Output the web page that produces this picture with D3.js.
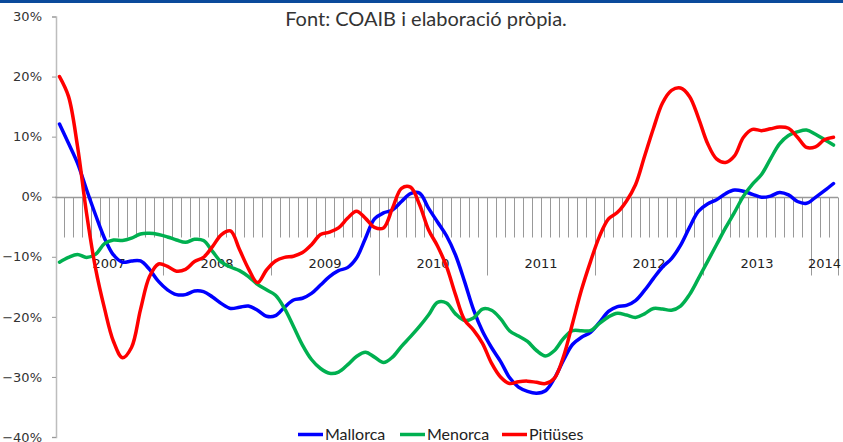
<!DOCTYPE html>
<html><head><meta charset="utf-8">
<script src="https://cdn.jsdelivr.net/npm/d3@7"></script>
<style>html,body{margin:0;padding:0;background:#fff;}svg{display:block;}</style>
</head><body>
<svg id="c" width="843" height="442"></svg>
<script>
const title = "Font: COAIB i elaboració pròpia.";
const years = ["2007","2008","2009","2010","2011","2012","2013","2014"];
const monthsPerYear = [12,12,12,12,12,12,12,3];
const yTicks = [-0.4,-0.3,-0.2,-0.1,0,0.1,0.2,0.3];
const seriesNames = ["Mallorca","Menorca","Pitiüses"];
const seriesColors = ["#0000FF","#00B050","#FF0000"];
const mallorca = [12.1,8.9,5.6,1.2,-3.0,-6.9,-9.7,-10.9,-10.7,-10.7,-12.1,-14.1,-15.5,-16.3,-16.3,-15.7,-15.8,-16.7,-17.8,-18.6,-18.4,-18.2,
 -18.9,-19.9,-19.8,-18.4,-17.2,-16.9,-16.1,-14.7,-13.3,-12.3,-11.8,-10.2,-6.9,-3.7,-2.7,-2.2,-0.8,0.5,0.6,-1.9,-4.2,
 -6.5,-9.7,-14.1,-18.8,-22.4,-25.1,-27.4,-30.1,-31.7,-32.4,-32.7,-32.3,-30.2,-27.2,-24.6,-23.4,-22.6,-20.9,-19.1,-18.3,-18.1,
 -17.3,-15.6,-13.6,-11.7,-10.3,-8.1,-5.1,-2.4,-1.2,-0.5,0.5,1.1,0.9,0.4,-0.1,0.1,0.7,0.3,-0.8,-1.1,-0.1,1.0,2.2];
const menorca = [-10.9,-10.1,-9.6,-10.1,-9.6,-7.8,-7.2,-7.3,-6.9,-6.2,-6.1,-6.3,-6.7,-7.2,-7.6,-7.1,-7.3,-9.1,-10.9,-11.7,-12.3,-13.3,
 -14.6,-15.5,-16.4,-18.6,-21.6,-24.7,-27.1,-28.6,-29.4,-29.2,-28.0,-26.6,-25.9,-26.7,-27.6,-26.7,-24.9,-23.3,-21.6,-19.7,-17.6,
 -17.7,-19.5,-20.6,-20.2,-18.7,-18.9,-20.3,-22.3,-23.2,-24.1,-25.6,-26.5,-25.6,-23.6,-22.3,-22.3,-22.3,-21.1,-20.0,-19.4,-19.7,
 -20.1,-19.5,-18.6,-18.7,-18.9,-18.2,-16.3,-13.6,-10.8,-8.0,-5.2,-2.6,0.1,2.1,3.7,6.3,8.8,10.2,10.8,11.1,10.4,9.5,8.6];
const pitiuses = [20.0,16.7,8.4,-2.7,-11.9,-18.6,-24.1,-26.8,-25.1,-18.8,-13.3,-11.2,-11.6,-12.4,-12.1,-10.8,-10.1,-8.3,-6.3,-5.7,-8.8,-12.0,
 -14.3,-12.2,-10.7,-10.1,-9.9,-9.3,-8.0,-6.3,-5.9,-5.2,-3.6,-2.4,-3.6,-5.1,-5.2,-1.9,1.4,1.6,-1.3,-5.5,-8.2,
 -11.6,-16.3,-20.5,-22.2,-24.4,-27.7,-30.0,-31.1,-30.8,-30.7,-30.9,-31.1,-30.2,-26.6,-21.1,-15.5,-10.8,-6.6,-3.7,-2.6,-0.7,
 2.0,6.7,11.4,15.6,17.7,18.1,16.7,13.1,8.9,6.3,5.7,6.8,9.9,11.2,11.0,11.3,11.6,11.4,9.9,8.2,8.3,9.5,9.9];
const seriesValues = [mallorca, menorca, pitiuses];

(function(){
const categories = [];
years.forEach((yr,i)=>{ for(let m=0;m<monthsPerYear[i];m++) categories.push(yr+"-"+(m+1)); });

const svg = d3.select("#c");
const mLeft = 55, mRight = 838, mTop = 16.5, mBottom = 437;
const x = d3.scaleBand().domain(categories).range([mLeft,mRight]).padding(0);
const y = d3.scaleLinear().domain([-0.4,0.3]).range([mBottom,mTop]);

svg.append("rect").attr("x",0).attr("y",0).attr("width",843).attr("height",3).attr("fill","#0B4A9B");

svg.append("text").attr("x",426).attr("y",26).attr("text-anchor","middle")
  .attr("font-family","Lato, 'Open Sans', sans-serif").attr("font-size",20).attr("fill","#333")
  .text(title);

const yAxis = d3.axisLeft(y).tickValues(yTicks).tickFormat(d3.format(".0%")).tickSize(4).tickPadding(10);
const gy = svg.append("g").attr("transform",`translate(${mLeft+1},0)`).call(yAxis);
gy.select(".domain").attr("stroke","#BDBDBD").attr("stroke-width",1.5);
gy.selectAll(".tick line").attr("stroke","#999");
gy.selectAll(".tick text").attr("font-family","'DejaVu Sans', Verdana, sans-serif").attr("font-size",13).attr("fill","#333");

const y0 = Math.round(y(0))+0.5;
const boundaries = categories.map(c=>x(c)).concat([mRight]);
const yearStart = [];
let acc=0; monthsPerYear.forEach(n=>{ yearStart.push(acc); acc+=n; });
const gx = svg.append("g");
boundaries.forEach((bx,i)=>{
  if(i===0) return;
  const isMajor = yearStart.includes(i) || i===categories.length;
  gx.append("line").attr("x1",Math.round(bx)+0.5).attr("x2",Math.round(bx)+0.5)
    .attr("y1",y0).attr("y2", isMajor? y0+78 : y0+40)
    .attr("stroke","#999").attr("stroke-width",1);
});
gx.append("line").attr("x1",mLeft).attr("x2",mRight).attr("y1",y0).attr("y2",y0).attr("stroke","#999").attr("stroke-width",1.5);
years.forEach((yr,i)=>{
  const a = x(categories[yearStart[i]]);
  const b = (i+1<years.length)? x(categories[yearStart[i+1]]) : mRight;
  gx.append("text").attr("x",(a+b)/2).attr("y",y0+70).attr("text-anchor","middle")
    .attr("font-family","'DejaVu Sans', Verdana, sans-serif").attr("font-size",13).attr("fill","#222")
    .text(yr);
});

const line = d3.line()
  .x((d,i)=>x(categories[i])+x.bandwidth()/2)
  .y(d=>y(d/100))
  .curve(d3.curveCatmullRom.alpha(0.5));
seriesValues.forEach((vals,k)=>{
  svg.append("path").datum(vals).attr("d",line).attr("fill","none")
    .attr("stroke",seriesColors[k]).attr("stroke-width",3.5).attr("stroke-linejoin","round").attr("stroke-linecap","round");
});

const legX = [298,400,502];
seriesNames.forEach((n,k)=>{
  const g = svg.append("g").attr("transform",`translate(${legX[k]},434.5)`);
  g.append("line").attr("x1",0).attr("x2",25).attr("y1",0).attr("y2",0).attr("stroke",seriesColors[k]).attr("stroke-width",3.5);
  g.append("text").attr("x",27).attr("y",5.5).attr("font-family","Lato, 'Open Sans', sans-serif").attr("font-size",16).attr("fill","#222").text(n);
});
})();
</script>
</body></html>
